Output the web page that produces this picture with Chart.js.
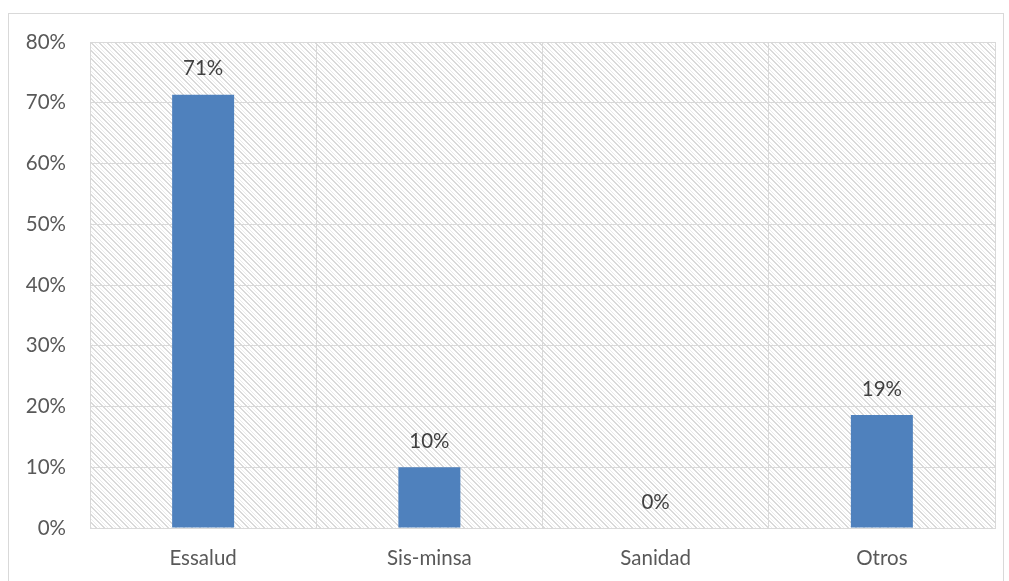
<!DOCTYPE html>
<html><head><meta charset="utf-8">
<script src="https://cdn.jsdelivr.net/npm/chart.js@4/dist/chart.umd.min.js"></script>
<style>
html,body{margin:0;padding:0;background:#fff;overflow:hidden;}
#frame{position:absolute;left:8px;top:13px;width:996px;height:600px;border:1px solid #d9d9d9;box-sizing:border-box;}
canvas{position:absolute;left:0;top:0;}
</style></head>
<body>
<div id="frame"></div>
<canvas id="c" width="1009" height="581"></canvas>
<script>
const categories = ["Essalud", "Sis-minsa", "Sanidad", "Otros"];
const values = [71.3, 10.0, 0.0, 18.6];
const yTicks = [0, 10, 20, 30, 40, 50, 60, 70, 80];
const FONT = 'Lato, "Open Sans", sans-serif';

function makePattern(ctx){
  const p = document.createElement('canvas');
  p.width = 8; p.height = 8;
  const g = p.getContext('2d');
  g.fillStyle = '#ffffff'; g.fillRect(0,0,8,8);
  g.fillStyle = '#dadada';
  for(let i=0;i<8;i++){ g.fillRect(i,i,1,1); g.fillRect((i+1)%8,i,1,1); }
  g.fillStyle = '#ececec';
  for(let i=0;i<8;i++){ g.fillRect((i+4)%8,i,1,1); }
  return ctx.createPattern(p,'repeat');
}

const bgPlugin = {
  id:'bg',
  beforeDraw(chart){
    const {ctx, chartArea:a} = chart;
    ctx.save();
    ctx.fillStyle = makePattern(ctx);
    ctx.fillRect(a.left, a.top, a.right-a.left, a.bottom-a.top);
    ctx.restore();
  }
};
const labelPlugin = {
  id:'lbl',
  afterDatasetsDraw(chart){
    const {ctx} = chart;
    const meta = chart.getDatasetMeta(0);
    ctx.save();
    ctx.font = '20.5px ' + FONT;
    ctx.fillStyle = '#404040';
    ctx.textAlign = 'center';
    ctx.textBaseline = 'middle';
    meta.data.forEach((bar,i)=>{
      ctx.fillText(Math.round(values[i]) + '%', bar.x, bar.y - 26);
    });
    ctx.restore();
  }
};

new Chart(document.getElementById('c'), {
  type:'bar',
  data:{ labels: categories, datasets:[{ data: values, backgroundColor:'#4f81bd', borderWidth:0, categoryPercentage:1, barPercentage:0.274 }]},
  options:{
    responsive:false, animation:false,
    layout:{ padding:{ left:0, right:14, top:42, bottom:0 } },
    plugins:{ legend:{display:false}, tooltip:{enabled:false} },
    scales:{
      x:{
        grid:{ color:'#d9d9d9', lineWidth:1, drawTicks:false, offset:true },
        border:{ color:'#d9d9d9' },
        ticks:{ font:{ family:FONT, size:20.5 }, color:'#595959', padding:18 },
        afterFit(s){ s.height = 581 - 528; }
      },
      y:{
        min:0, max:80,
        afterBuildTicks(s){ s.ticks = yTicks.map(v=>({value:v})); },
        grid:{ color:'#d9d9d9', lineWidth:1, drawTicks:false },
        border:{ color:'#d9d9d9' },
        ticks:{ font:{ family:FONT, size:20.5 }, color:'#595959', padding:24, callback:v=>v+'%' },
        afterFit(s){ s.width = 90; }
      }
    }
  },
  plugins:[bgPlugin, labelPlugin]
});
</script>
</body></html>
